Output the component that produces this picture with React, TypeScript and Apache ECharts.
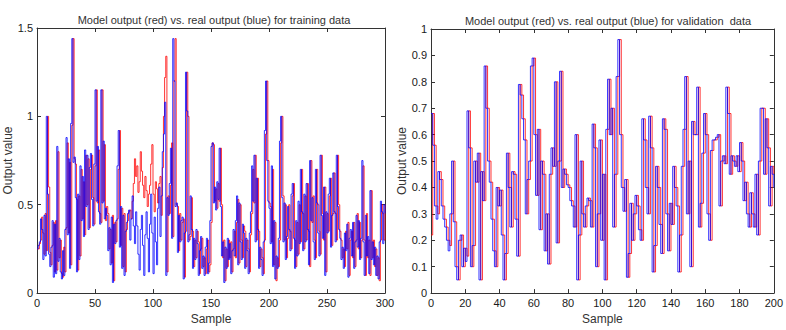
import React, { useEffect, useRef } from "react";
import * as echarts from "echarts";

const trainTitle = "Model output (red) vs. real output (blue) for training data";
const validTitle = "Model output (red) vs. real output (blue) for validation  data";
const xName = "Sample";
const yName = "Output value";

// training (samples 0..300)
const trainReal = [
  0.25, 0.27, 0.29, 0.42, 0.36, 0.19, 0.44, 0.21, 1.0, 0.56,
  0.22, 0.15, 0.26, 0.41, 0.09, 0.39, 0.11, 0.83, 0.18, 0.31,
  0.12, 0.08, 0.24, 0.1, 0.36, 0.88, 0.33, 0.76, 0.14, 0.96,
  1.44, 0.74, 0.77, 0.54, 0.12, 0.56, 0.19, 0.72, 0.41, 0.66,
  0.32, 0.81, 0.49, 0.78, 0.36, 0.71, 0.79, 0.53, 0.38, 0.73,
  1.15, 0.52, 0.83, 0.46, 0.39, 1.15, 0.51, 0.86, 0.42, 0.48,
  0.44, 0.24, 0.37, 0.16, 0.43, 0.06, 0.39, 0.28, 0.41, 0.72,
  0.92, 0.26, 0.49, 0.14, 0.44, 0.1, 0.35, 0.4, 0.45, 0.47,
  0.3, 0.42, 0.55, 0.38, 0.28, 0.46, 0.38, 0.22, 0.13, 0.36,
  0.44, 0.27, 0.1, 0.33, 0.46, 0.31, 0.12, 0.39, 0.56, 0.34,
  0.11, 0.43, 0.29, 0.16, 0.48, 0.6, 0.32, 0.55, 0.8, 0.9,
  1.08, 0.1, 0.54, 0.44, 0.62, 0.82, 0.31, 1.44, 1.2, 0.49,
  0.51, 0.23, 0.44, 0.29, 0.41, 0.43, 0.08, 0.34, 1.25, 1.03,
  0.29, 0.33, 0.55, 0.36, 0.14, 0.31, 0.19, 0.36, 0.28, 0.1,
  0.24, 0.32, 0.14, 0.21, 0.1, 0.26, 0.31, 0.11, 0.17, 0.41,
  0.83, 0.85, 0.51, 0.6, 0.47, 0.63, 0.53, 0.82, 0.49, 0.21,
  0.29, 0.06, 0.26, 0.14, 0.31, 0.19, 0.28, 0.11, 0.24, 0.36,
  0.21, 0.41, 0.55, 0.16, 0.51, 0.29, 0.19, 0.39, 0.34, 0.14,
  0.31, 0.24, 0.11, 0.34, 0.46, 0.72, 0.52, 0.78, 0.29, 0.65,
  0.36, 0.14, 0.26, 0.19, 0.1, 0.29, 0.92, 1.2, 0.75, 0.52,
  0.48, 0.28, 0.72, 0.15, 0.41, 0.08, 0.21, 0.14, 0.31, 0.86,
  1.0, 0.54, 0.29, 0.51, 0.19, 0.32, 0.49, 0.36, 0.24, 0.56,
  0.62, 0.31, 0.14, 0.41, 0.21, 0.52, 0.28, 0.7, 0.46, 0.24,
  0.56, 0.29, 0.62, 0.36, 0.16, 0.75, 0.41, 0.54, 0.29, 0.19,
  0.7, 0.51, 0.34, 0.21, 0.78, 0.44, 0.31, 0.6, 0.1, 0.46,
  0.34, 0.56, 0.65, 0.26, 0.44, 0.68, 0.46, 0.29, 0.78, 0.49,
  0.36, 0.31, 0.19, 0.26, 0.14, 0.34, 0.24, 0.39, 0.09, 0.31,
  0.36, 0.21, 0.4, 0.14, 0.29, 0.44, 0.26, 0.41, 0.19, 0.31,
  0.75, 0.29, 0.1, 0.44, 0.21, 0.32, 0.11, 0.58, 0.19, 0.29,
  0.16, 0.26, 0.1, 0.21, 0.08, 0.29, 0.52, 0.46, 0.28, 0.5,
  0.45,
];

const trainModel = [
  0.25, 0.25, 0.28, 0.3, 0.43, 0.34, 0.22, 0.45, 0.24, 1.0,
  0.6, 0.23, 0.16, 0.27, 0.4, 0.12, 0.41, 0.13, 0.8, 0.2,
  0.3, 0.11, 0.09, 0.26, 0.12, 0.37, 0.85, 0.34, 0.74, 0.16,
  0.95, 1.44, 0.76, 0.73, 0.53, 0.13, 0.55, 0.21, 0.7, 0.42,
  0.63, 0.33, 0.78, 0.5, 0.76, 0.37, 0.7, 0.78, 0.54, 0.39,
  0.72, 1.15, 0.51, 0.81, 0.45, 0.4, 1.15, 0.52, 0.84, 0.41,
  0.49, 0.45, 0.25, 0.36, 0.17, 0.44, 0.07, 0.4, 0.29, 0.42,
  0.7, 0.92, 0.27, 0.48, 0.15, 0.45, 0.12, 0.36, 0.41, 0.46,
  0.47, 0.42, 0.52, 0.62, 0.76, 0.66, 0.72, 0.57, 0.63, 0.8,
  0.69, 0.61, 0.54, 0.66, 0.58, 0.49, 0.56, 0.61, 0.73, 0.84,
  0.56, 0.46, 0.63, 0.59, 0.51, 0.62, 0.66, 0.44, 0.71, 1.0,
  1.22, 1.34, 0.12, 0.55, 0.45, 0.61, 0.85, 0.32, 1.2, 1.44,
  0.5, 0.49, 0.24, 0.45, 0.3, 0.4, 0.42, 0.09, 0.35, 1.25,
  1.0, 0.3, 0.32, 0.54, 0.35, 0.15, 0.3, 0.2, 0.35, 0.29,
  0.11, 0.25, 0.31, 0.15, 0.2, 0.11, 0.25, 0.3, 0.12, 0.16,
  0.4, 0.85, 0.84, 0.52, 0.59, 0.48, 0.62, 0.52, 0.82, 0.5,
  0.2, 0.3, 0.07, 0.25, 0.15, 0.3, 0.2, 0.29, 0.12, 0.25,
  0.35, 0.2, 0.4, 0.53, 0.17, 0.5, 0.3, 0.2, 0.38, 0.35,
  0.15, 0.3, 0.25, 0.12, 0.33, 0.45, 0.7, 0.51, 0.78, 0.3,
  0.65, 0.35, 0.15, 0.25, 0.2, 0.11, 0.3, 0.9, 1.2, 0.75,
  0.51, 0.49, 0.29, 0.7, 0.16, 0.4, 0.07, 0.2, 0.15, 0.3,
  0.85, 1.0, 0.55, 0.3, 0.5, 0.2, 0.31, 0.5, 0.35, 0.25,
  0.55, 0.62, 0.3, 0.15, 0.4, 0.22, 0.5, 0.29, 0.7, 0.45,
  0.25, 0.55, 0.3, 0.62, 0.35, 0.15, 0.75, 0.4, 0.55, 0.3,
  0.2, 0.7, 0.5, 0.35, 0.22, 0.78, 0.45, 0.3, 0.6, 0.12,
  0.45, 0.35, 0.55, 0.65, 0.27, 0.45, 0.68, 0.45, 0.3, 0.78,
  0.5, 0.35, 0.3, 0.2, 0.25, 0.15, 0.35, 0.25, 0.4, 0.1,
  0.3, 0.35, 0.2, 0.4, 0.15, 0.3, 0.45, 0.25, 0.4, 0.2,
  0.3, 0.72, 0.3, 0.1, 0.45, 0.2, 0.3, 0.1, 0.58, 0.2,
  0.3, 0.15, 0.25, 0.1, 0.2, 0.07, 0.3, 0.5, 0.45, 0.3,
  0.5,
];

// validation (samples 0..200)
const validReal = [
  0.68, 0.56, 0.33, 0.28, 0.46, 0.43, 0.33, 0.28, 0.25, 0.2,
  0.16, 0.3, 0.5, 0.27, 0.1, 0.05, 0.2, 0.22, 0.1, 0.17,
  0.12, 0.69, 0.55, 0.1, 0.18, 0.5, 0.42, 0.53, 0.05, 0.46,
  0.35, 0.86, 0.7, 0.5, 0.42, 0.28, 0.16, 0.1, 0.4, 0.33,
  0.39, 0.22, 0.05, 0.15, 0.53, 0.4, 0.25, 0.46, 0.45, 0.28,
  0.14, 0.79, 0.75, 0.66, 0.58, 0.3, 0.43, 0.5, 0.86, 0.89,
  0.6, 0.37, 0.62, 0.24, 0.5, 0.45, 0.16, 0.3, 0.11, 0.45,
  0.55, 0.48, 0.8, 0.19, 0.5, 0.84, 0.4, 0.47, 0.45, 0.41,
  0.4, 0.35, 0.33, 0.25, 0.6, 0.05, 0.22, 0.5, 0.3, 0.25,
  0.33, 0.36, 0.35, 0.25, 0.64, 0.55, 0.1, 0.3, 0.58, 0.2,
  0.45, 0.05, 0.62, 0.81, 0.6, 0.7, 0.25, 0.45, 0.82, 0.96,
  0.6, 0.4, 0.31, 0.43, 0.06, 0.15, 0.34, 0.2, 0.3, 0.37,
  0.33, 0.24, 0.2, 0.66, 0.58, 0.4, 0.3, 0.67, 0.55, 0.08,
  0.18, 0.48, 0.4, 0.26, 0.15, 0.66, 0.62, 0.3, 0.16, 0.34,
  0.26, 0.48, 0.4, 0.33, 0.08, 0.22, 0.48, 0.62, 0.82, 0.3,
  0.5, 0.1, 0.65, 0.6, 0.6, 0.78, 0.25, 0.34, 0.53, 0.68,
  0.6, 0.3, 0.2, 0.54, 0.58, 0.58, 0.59, 0.6, 0.33, 0.5,
  0.52, 0.49, 0.78, 0.68, 0.45, 0.52, 0.5, 0.48, 0.52, 0.46,
  0.57, 0.5, 0.35, 0.42, 0.3, 0.25, 0.38, 0.3, 0.25, 0.45,
  0.22, 0.5, 0.7, 0.7, 0.45, 0.66, 0.55, 0.33, 0.48, 0.45,
  0.4,
];

const validModel = [
  0.22, 0.68, 0.56, 0.33, 0.3, 0.46, 0.43, 0.33, 0.28, 0.25,
  0.2, 0.18, 0.3, 0.5, 0.27, 0.1, 0.05, 0.2, 0.22, 0.1,
  0.17, 0.14, 0.69, 0.55, 0.1, 0.18, 0.5, 0.42, 0.53, 0.05,
  0.46, 0.35, 0.86, 0.7, 0.5, 0.42, 0.28, 0.16, 0.1, 0.4,
  0.33, 0.39, 0.22, 0.05, 0.15, 0.53, 0.4, 0.25, 0.46, 0.45,
  0.28, 0.14, 0.79, 0.75, 0.66, 0.58, 0.3, 0.43, 0.5, 0.86,
  0.89, 0.6, 0.37, 0.62, 0.24, 0.5, 0.45, 0.16, 0.3, 0.11,
  0.45, 0.55, 0.48, 0.8, 0.19, 0.5, 0.84, 0.4, 0.47, 0.45,
  0.41, 0.4, 0.35, 0.33, 0.25, 0.6, 0.05, 0.22, 0.5, 0.3,
  0.25, 0.33, 0.36, 0.35, 0.25, 0.64, 0.55, 0.1, 0.3, 0.58,
  0.2, 0.45, 0.05, 0.62, 0.81, 0.6, 0.7, 0.25, 0.45, 0.82,
  0.96, 0.6, 0.4, 0.31, 0.43, 0.06, 0.15, 0.34, 0.2, 0.3,
  0.37, 0.33, 0.24, 0.2, 0.66, 0.58, 0.4, 0.3, 0.67, 0.55,
  0.08, 0.18, 0.48, 0.4, 0.26, 0.15, 0.66, 0.62, 0.3, 0.16,
  0.34, 0.26, 0.48, 0.4, 0.33, 0.08, 0.22, 0.48, 0.62, 0.82,
  0.3, 0.5, 0.1, 0.65, 0.6, 0.6, 0.78, 0.25, 0.34, 0.53,
  0.68, 0.6, 0.3, 0.2, 0.54, 0.58, 0.58, 0.59, 0.6, 0.33,
  0.5, 0.52, 0.49, 0.78, 0.68, 0.45, 0.52, 0.5, 0.48, 0.52,
  0.46, 0.57, 0.5, 0.35, 0.42, 0.3, 0.25, 0.38, 0.3, 0.25,
  0.45, 0.22, 0.5, 0.7, 0.7, 0.45, 0.66, 0.55, 0.33, 0.48,
  0.45,
];

const FONT = "'Liberation Sans', Arial, sans-serif";

function App() {
  const ref = useRef<HTMLDivElement>(null);

  useEffect(() => {
    document.body.style.margin = "0";
    if (!ref.current) return;
    const chart = echarts.init(ref.current, undefined, { renderer: "svg" });

    const pairs = (arr: number[]) => arr.map((v, i) => [i, v]);

    const labelStyle = { color: "#1a1a1a", fontSize: 11, fontFamily: FONT };
    const lineStyleAxis = { color: "#333", width: 1 };

    const mkX = (grid: number, max: number, interval: number, top: boolean) => ({
      type: "value",
      gridIndex: grid,
      min: 0,
      max,
      interval,
      position: top ? "top" : "bottom",
      name: top ? "" : xName,
      nameLocation: "middle",
      nameGap: 18,
      nameTextStyle: { color: "#333", fontSize: 12, fontFamily: FONT },
      axisLine: { show: true, onZero: false, lineStyle: lineStyleAxis },
      axisTick: { show: true, inside: true, length: 4, lineStyle: lineStyleAxis },
      axisLabel: top ? { show: false } : { ...labelStyle, margin: 4 },
      splitLine: { show: false },
    });

    const mkY = (grid: number, max: number, interval: number, right: boolean) => ({
      type: "value",
      gridIndex: grid,
      min: 0,
      max,
      interval,
      position: right ? "right" : "left",
      name: right ? "" : yName,
      nameLocation: "middle",
      nameGap: grid === 0 ? 19 : 21,
      nameRotate: 90,
      nameTextStyle: { color: "#333", fontSize: 12, fontFamily: FONT },
      axisLine: { show: true, onZero: false, lineStyle: lineStyleAxis },
      axisTick: { show: true, inside: true, length: 4, lineStyle: lineStyleAxis },
      axisLabel: right ? { show: false } : { ...labelStyle, margin: 4 },
      splitLine: { show: false },
    });

    const mkSeries = (data: number[], color: string, xi: number, yi: number) => ({
      type: "line",
      step: "end",
      xAxisIndex: xi,
      yAxisIndex: yi,
      data: pairs(data),
      showSymbol: false,
      symbol: "none",
      lineStyle: { color, width: 1, opacity: 0.8 },
      silent: true,
    });

    chart.setOption({
      animation: false,
      backgroundColor: "#ffffff",
      title: [
        {
          text: trainTitle,
          left: 209,
          top: 9,
          textAlign: "center",
          textStyle: { fontSize: 11, fontWeight: "normal", color: "#333", fontFamily: FONT },
        },
        {
          text: validTitle,
          left: 603,
          top: 10,
          textAlign: "center",
          textStyle: { fontSize: 11, fontWeight: "normal", color: "#333", fontFamily: FONT },
        },
      ],
      grid: [
        { left: 37, right: 401, top: 28, bottom: 28 },
        { left: 431, right: 6, top: 29, bottom: 27 },
      ],
      xAxis: [
        mkX(0, 300, 50, false),
        mkX(0, 300, 50, true),
        mkX(1, 200, 20, false),
        mkX(1, 200, 20, true),
      ],
      yAxis: [
        mkY(0, 1.5, 0.5, false),
        mkY(0, 1.5, 0.5, true),
        mkY(1, 1, 0.1, false),
        mkY(1, 1, 0.1, true),
      ],
      series: [
        mkSeries(trainModel, "#ff0000", 0, 0),
        mkSeries(trainReal, "#0000ff", 0, 0),
        mkSeries(validModel, "#ff0000", 2, 2),
        mkSeries(validReal, "#0000ff", 2, 2),
      ],
    });

    return () => chart.dispose();
  }, []);

  return <div ref={ref} style={{ width: 786, height: 330 }} />;
}

export default App;
